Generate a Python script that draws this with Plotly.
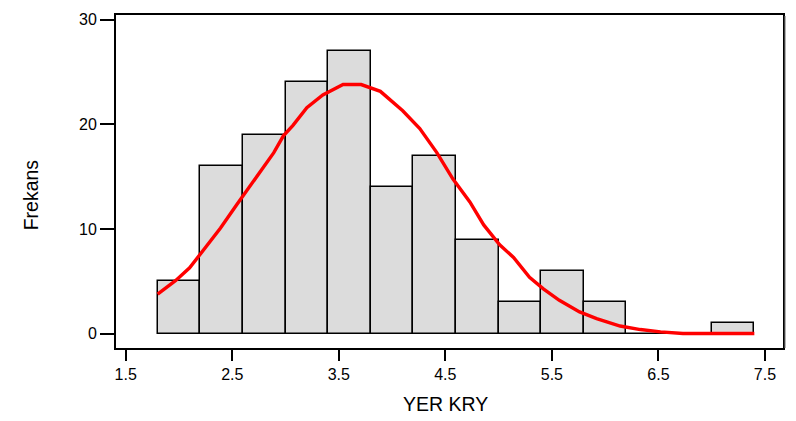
import plotly.graph_objects as go

# Histogram data (bin lower edges, width 0.4)
bin_left = [1.8, 2.2, 2.6, 3.0, 3.4, 3.8, 4.2, 4.6, 5.0, 5.4, 5.8, 6.2, 6.6, 7.0]
bin_width = 0.4
freq = [5, 16, 19, 24, 27, 14, 17, 9, 3, 6, 3, 0, 0, 1]

# Fitted normal curve
curve_x = [1.80, 1.97, 2.10, 2.20, 2.29, 2.39, 2.54, 2.67, 2.89, 2.98, 3.07, 3.20, 3.35,
           3.54, 3.71, 3.89, 4.10, 4.26, 4.42, 4.57, 4.73, 4.86, 5.01, 5.14, 5.29, 5.42,
           5.57, 5.76, 5.92, 6.14, 6.33, 6.52, 6.73, 7.40]
curve_y = [3.8, 5.1, 6.3, 7.6, 8.7, 10.1, 12.3, 14.2, 17.3, 18.9, 19.9, 21.6, 22.8,
           23.8, 23.8, 23.15, 21.3, 19.6, 17.3, 14.8, 12.6, 10.4, 8.5, 7.3, 5.4, 4.3,
           3.2, 2.1, 1.45, 0.75, 0.41, 0.19, 0.04, 0.04]

x_ticks = [1.5, 2.5, 3.5, 4.5, 5.5, 6.5, 7.5]
y_ticks = [0, 10, 20, 30]

centers = [b + bin_width / 2 for b in bin_left]

fig = go.Figure()
fig.add_trace(go.Bar(
    x=centers, y=freq, width=[bin_width] * len(freq),
    marker=dict(color="#dcdcdc", line=dict(color="black", width=1.5)),
    showlegend=False, hoverinfo="skip",
))
fig.add_trace(go.Scatter(
    x=curve_x, y=curve_y, mode="lines",
    line=dict(color="#ff0000", width=3.4),
    showlegend=False, hoverinfo="skip",
))

font = "Liberation Sans, Arial, sans-serif"
L, R, T, B = 116, 13, 11, 73
pw = 796 - L - R
ph = 421 - T - B

def px2paper(px, py):
    return (px - L) / pw, 1 - (py - T) / ph

ax_x, ax_y = px2paper(445, 405)
ay_x, ay_y = px2paper(31, 193.5)

fig.update_layout(
    width=796, height=421,
    margin=dict(l=L, r=R, t=T, b=B),
    paper_bgcolor="white", plot_bgcolor="white",
    font=dict(family=font, color="black", size=16),
    bargap=0,
    xaxis=dict(
        range=[1.409, 7.669], tickvals=x_ticks, ticktext=[str(v) for v in x_ticks],
        showgrid=False, zeroline=False, showline=True, linecolor="black", linewidth=2,
        mirror=True, ticks="outside", ticklen=11, tickwidth=2, tickcolor="black",
        tickfont=dict(size=16),
    ),
    yaxis=dict(
        range=[-1.35, 30.44], tickvals=y_ticks,
        showgrid=False, zeroline=False, showline=True, linecolor="black", linewidth=2,
        mirror=True, ticks="outside", ticklen=14, tickwidth=2, tickcolor="black",
        tickfont=dict(size=16),
    ),
    annotations=[
        dict(text="YER KRY", x=ax_x, y=ax_y, xref="paper", yref="paper", showarrow=False,
             xanchor="center", yanchor="middle", font=dict(size=19.5)),
        dict(text="Frekans", x=ay_x, y=ay_y, xref="paper", yref="paper", showarrow=False,
             xanchor="center", yanchor="middle", textangle=-90, font=dict(size=19.5)),
    ],
    shapes=[
        dict(type="line", xref="paper", yref="paper",
             x0=1 + 2.2 / pw, x1=1 + 2.2 / pw, y0=0, y1=1 - 1 / ph,
             line=dict(color="#a0a0a0", width=1.2)),
    ],
)

fig.write_html("out.html")
